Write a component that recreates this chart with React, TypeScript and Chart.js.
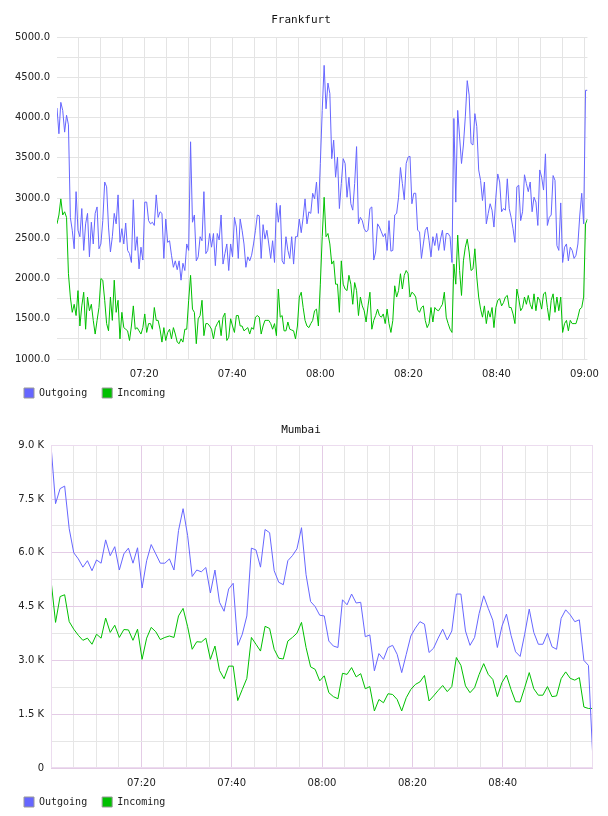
import { useEffect, useRef } from "react";
import { Chart, registerables } from "chart.js";

Chart.register(...registerables);

// ---- shared series / axis definitions ----
const SERIES_NAMES = ["Outgoing", "Incoming"];
const SERIES_COLORS = ["#6666ff", "#00c000"];

// minutes after 07:00 where vertical grid lines sit
const X_GRID_MINUTES = [0, 5, 10, 15, 20, 25, 30, 35, 40, 45, 50, 55, 60, 65, 70, 75, 80, 85, 90, 95, 100, 105, 110, 115, 120];
// labelled time marks (minutes after 07:00) and their text
const X_LABEL_MINUTES = [20, 40, 60, 80, 100, 120];
const X_LABELS = ["07:20", "07:40", "08:00", "08:20", "08:40", "09:00"];

// ---- Frankfurt: one sample every 26 s from 07:00:12 ----
const FRA_START_SEC = 12;
const FRA_STEP_SEC = 26;
const FRA_Y_LABELS = [1000, 1500, 2000, 2500, 3000, 3500, 4000, 4500, 5000];
const FRA_Y_GRID = [1250, 1750, 2250, 2750, 3250, 3750, 4250, 4750];

const FRA_OUT = [
  4120, 3800, 4190, 4090, 3820, 4030, 3910, 2760, 2600, 2370,
  3080, 2600, 2520, 2870, 2350, 2680, 2810, 2270, 2700, 2430,
  2810, 2890, 2370, 2430, 2720, 3200, 3140, 2640, 2330, 2520,
  2810, 2680, 3040, 2450, 2620, 2430, 2690, 2350, 2310, 2200,
  2980, 2350, 2520, 2120, 2390, 2230, 2950, 2950, 2720, 2680,
  2700, 2660, 3040, 2760, 2830, 2810, 2250, 2740, 2450, 2470,
  2290, 2140, 2220, 2110, 2220, 1980, 2190, 2100, 2430, 2350,
  3700, 2700, 2790, 2220, 2270, 2520, 2470, 3080, 2310, 2350,
  2560, 2390, 2560, 2160, 2560, 2480, 2790, 2180, 2310, 2430,
  2100, 2430, 2270, 2760, 2640, 2250, 2740, 2600, 2430, 2140,
  2270, 2220, 2290, 2430, 2600, 2790, 2780, 2250, 2670, 2490,
  2600, 2430, 2250, 2470, 2200, 2940, 2700, 2910, 2220, 2180,
  2520, 2350, 2250, 2520, 2180, 2520, 2520, 2740, 2570, 2760,
  2990, 2680, 2830, 2810, 3060, 2990, 3200, 2810,
  3430, 4090, 4650, 4110, 4430, 4300, 3490, 3720, 3260, 3510,
  2870, 3180, 3490, 3430, 3010, 3260, 2930, 2850, 3180, 3640,
  2680, 2760, 2720, 2620, 2580, 2600, 2870, 2890, 2230, 2330,
  2680, 2640, 2580, 2520, 2560, 2350, 2720, 2340, 2350, 2790,
  2810, 3010, 3380, 3180, 2980, 3430, 3510, 3520, 2930, 3060,
  3060, 2600, 2580, 2250, 2430, 2600, 2640, 2470, 2270, 2520,
  2410, 2560, 2350, 2490, 2600, 2350, 2560, 2560, 2520, 2200,
  3990, 2950, 4090, 3760, 3430, 3660, 4010, 4460, 4280, 3680,
  3660, 4050, 3890, 3350, 3220, 2970, 3200, 2680, 2810, 2930,
  2850, 2640, 3010, 3300, 3200, 2830, 2870, 2850, 3240, 2870,
  2760, 2620, 2450, 3140, 3160, 2720, 2830, 3290, 3180, 3080,
  3200, 2830, 3010, 2950, 2660, 3350, 3260, 3100, 3550, 2660,
  2760, 2790, 3280, 3220, 2410, 2350, 2940, 2200, 2390, 2430,
  2220, 2390, 2350, 2250, 2290, 2430, 2790, 3060, 2680, 4340,
  4340,
];

const FRA_IN = [
  2680, 2790, 2990, 2790, 2830, 2760, 2060, 1770, 1580, 1680,
  1540, 1850, 1410, 1660, 1830, 1370, 1770, 1600, 1680, 1480,
  1310, 1480, 1640, 2000, 1980, 1730, 1440, 1350, 1770, 1480,
  1980, 1580, 1730, 1250, 1580, 1390, 1370, 1350, 1230, 1410,
  1660, 1370, 1390, 1350, 1310, 1390, 1560, 1330, 1440, 1440,
  1370, 1640, 1480, 1480, 1370, 1210, 1390, 1230, 1330, 1370,
  1250, 1390, 1310, 1210, 1190, 1250, 1210, 1370, 1370, 1730,
  2040, 1620, 1580, 1190, 1500, 1540, 1730, 1290, 1440, 1440,
  1410, 1370, 1250, 1390, 1440, 1480, 1290, 1520, 1570, 1230,
  1270, 1500, 1410, 1330, 1540, 1540, 1410, 1410, 1350, 1370,
  1390, 1310, 1390, 1370, 1520, 1540, 1520, 1310, 1410, 1480,
  1480, 1480, 1440, 1370, 1440, 1290, 1870, 1520, 1540, 1350,
  1350, 1460, 1370, 1360, 1350, 1250, 1410, 1770, 1830, 1640,
  1480, 1410, 1390, 1440, 1480, 1600, 1620, 1410,
  1930, 2520, 3010, 2520, 2560, 2430, 2180, 2220, 1930, 1930,
  1580, 2220, 1930, 1870, 1850, 2040, 1930, 1680, 1950, 1850,
  1540, 1770, 1660, 1600, 1460, 1660, 1830, 1370, 1480, 1540,
  1620, 1540, 1520, 1560, 1440, 1620, 1440, 1330, 1480, 1910,
  1770, 1850, 2060, 1870, 2040, 2100, 2060, 1770, 1830, 1810,
  1770, 1610, 1580, 1640, 1660, 1480, 1390, 1440, 1640, 1460,
  1640, 1610, 1600, 1640, 1680, 1830, 1520, 1440, 1370, 1330,
  2180, 1930, 2540, 2100, 1790, 2220, 2390, 2490, 2330, 2100,
  2120, 2370, 2020, 1770, 1620, 1520, 1660, 1440, 1600, 1520,
  1640, 1390, 1640, 1730, 1750, 1660, 1700, 1770, 1790, 1640,
  1640, 1560, 1440, 1870, 1750, 1600, 1640, 1770, 1680, 1790,
  1680, 1620, 1810, 1600, 1770, 1730, 1620, 1810, 1830, 1640,
  1480, 1730, 1810, 1580, 1770, 1600, 1770, 1330, 1440, 1480,
  1350, 1480, 1440, 1440, 1440, 1520, 1620, 1640, 1770, 2680,
  2740,
];

// ---- Mumbai: one sample every 60.5 s from 07:00:00 ----
const MUM_START_SEC = 0;
const MUM_STEP_SEC = 60.5;
const MUM_Y_LABELS = [0, 1500, 3000, 4500, 6000, 7500, 9000];
const MUM_Y_GRID = [750, 2250, 3750, 5250, 6750, 8250];

const MUM_OUT = [
  9000, 7370, 7790, 7860, 6670, 6000, 5830, 5600, 5780, 5500,
  5800, 5710, 6360, 5920, 6170, 5520, 5970, 6130, 5710, 6140,
  5020, 5780, 6230, 5970, 5710, 5710, 5830, 5520, 6620, 7230,
  6480, 5340, 5520, 5470, 5590, 4880, 5520, 4620, 4370, 4990,
  5150, 3420, 3730, 4240, 6130, 6080, 5600, 6650, 6560, 5500,
  5180, 5110, 5780, 5920, 6110, 6700, 5390, 4640, 4500, 4260,
  4240, 3540, 3400, 3360, 4690, 4550, 4850, 4600, 4620, 3660,
  3710, 2710, 3190, 3030, 3360, 3420, 3170, 2660, 3170, 3680,
  3900, 4080, 4010, 3220, 3340, 3620, 3870, 3570, 3820, 4850,
  4850, 3820, 3420, 3640, 4310, 4800, 4450, 4120, 3360, 3950,
  4290, 3700, 3240, 3110, 3730, 4430, 3780, 3450, 3450, 3760,
  3380, 3310, 4170, 4410, 4270, 4080, 4130, 3000, 2860, 170,
];

const MUM_IN = [
  5240, 4060, 4780, 4830, 4080, 3870, 3700, 3560, 3620, 3450,
  3730, 3620, 4180, 3780, 3980, 3640, 3860, 3850, 3560, 3870,
  3030, 3620, 3920, 3800, 3580, 3640, 3680, 3640, 4240, 4450,
  3940, 3310, 3520, 3510, 3620, 3030, 3400, 2720, 2490, 2840,
  2840, 1880, 2190, 2500, 3640, 3450, 3260, 3950, 3890, 3310,
  3060, 3040, 3540, 3640, 3760, 4060, 3360, 2820, 2750, 2430,
  2570, 2100, 1990, 1930, 2640, 2610, 2800, 2540, 2630, 2210,
  2270, 1590, 1910, 1820, 2070, 2050, 1910, 1590, 1960, 2190,
  2330, 2400, 2580, 1870, 2010, 2160, 2300, 2130, 2270, 3080,
  2860, 2290, 2100, 2240, 2610, 2910, 2610, 2470, 1990, 2380,
  2590, 2190, 1850, 1840, 2240, 2660, 2210, 2030, 2030, 2270,
  1990, 2010, 2490, 2680, 2500, 2450, 2520, 1700, 1660, 1660,
];

const MONO = "'DejaVu Sans Mono', monospace";
const SANS = "'DejaVu Sans', sans-serif";
const TEXT = "#222222";

type PanelSpec = {
  title: string;
  startSec: number;
  stepSec: number;
  outgoing: number[];
  incoming: number[];
  yLabels: number[];
  yGrid: number[];
  formatY: (v: number) => string;
  yAxisWidth: number;
  titleBottomPad: number;
  majorGrid: string;
  minorGrid: string;
  frame: string | null;
  hideLastTime: boolean;
};

// strokes a rectangle around the plotting area
const framePlugin = {
  id: "frame",
  afterDraw(chart: any, _args: any, opts: any) {
    if (!opts || !opts.color) return;
    const { left, top, right, bottom } = chart.chartArea;
    const ctx = chart.ctx;
    ctx.save();
    ctx.strokeStyle = opts.color;
    ctx.lineWidth = 1;
    ctx.strokeRect(Math.round(left) + 0.5, Math.round(top) + 0.5, Math.round(right - left) - 1, Math.round(bottom - top) - 1);
    ctx.restore();
  },
};

// pulls the legend row a little closer to the time axis
const legendLiftPlugin = {
  id: "legendLift",
  afterLayout(chart: any, _args: any, opts: any) {
    const lg = chart.legend;
    if (!lg || !opts || !opts.dy) return;
    lg.top += opts.dy;
    lg.bottom += opts.dy;
  },
};

function toPoints(values: number[], startSec: number, stepSec: number) {
  return values.map((y, i) => ({ x: (startSec + i * stepSec) / 60, y }));
}

function buildConfig(p: PanelSpec): any {
  const out = toPoints(p.outgoing, p.startSec, p.stepSec);
  const inc = toPoints(p.incoming, p.startSec, p.stepSec);
  const xMin = out[0].x;
  const xMax = out[out.length - 1].x;
  const yTicks = [...p.yLabels, ...p.yGrid].sort((a, b) => a - b);
  const yMin = p.yLabels[0];
  const yMax = p.yLabels[p.yLabels.length - 1];

  return {
    type: "line",
    data: {
      datasets: [
        { label: SERIES_NAMES[0], data: out, borderColor: SERIES_COLORS[0], backgroundColor: SERIES_COLORS[0] },
        { label: SERIES_NAMES[1], data: inc, borderColor: SERIES_COLORS[1], backgroundColor: SERIES_COLORS[1] },
      ].map((d) => ({ ...d, borderWidth: 1, pointRadius: 0, tension: 0, fill: false })),
    },
    options: {
      animation: false,
      responsive: false,
      events: [],
      layout: { padding: { left: 9, right: 15, top: 0, bottom: 0 } },
      plugins: {
        title: {
          display: true,
          text: p.title,
          color: "#111111",
          font: { family: MONO, size: 11, weight: "normal" },
          padding: { top: 14, bottom: p.titleBottomPad },
        },
        legend: {
          position: "bottom",
          align: "start",
          labels: {
            boxWidth: 10,
            boxHeight: 10,
            padding: 15,
            color: TEXT,
            font: { family: MONO, size: 10 },
            generateLabels: (chart: any) =>
              chart.data.datasets.map((ds: any, i: number) => ({
                text: ds.label,
                fillStyle: ds.borderColor,
                strokeStyle: "#999999",
                lineWidth: 1,
                hidden: false,
                datasetIndex: i,
                fontColor: TEXT,
              })),
          },
        },
        tooltip: { enabled: false },
        frame: { color: p.frame },
        legendLift: { dy: -16 },
      },
      scales: {
        x: {
          type: "linear",
          min: xMin,
          max: xMax,
          afterBuildTicks: (s: any) => {
            s.ticks = X_GRID_MINUTES.filter((m) => m >= s.min && m <= s.max).map((value) => ({ value }));
          },
          ticks: {
            autoSkip: false,
            maxRotation: 0,
            padding: 9,
            color: TEXT,
            font: { family: SANS, size: 10 },
            callback: (v: number) => {
              const k = X_LABEL_MINUTES.indexOf(v);
              if (k < 0) return "";
              if (p.hideLastTime && k === X_LABEL_MINUTES.length - 1) return "";
              return X_LABELS[k];
            },
          },
          grid: {
            drawTicks: false,
            color: (ctx: any) => (ctx.tick && X_LABEL_MINUTES.includes(ctx.tick.value) ? p.majorGrid : p.minorGrid),
          },
          border: { display: false },
        },
        y: {
          type: "linear",
          min: yMin,
          max: yMax,
          afterBuildTicks: (s: any) => {
            s.ticks = yTicks.map((value) => ({ value }));
          },
          afterFit: (s: any) => {
            s.width = p.yAxisWidth;
          },
          ticks: {
            autoSkip: false,
            padding: 7,
            color: TEXT,
            font: { family: SANS, size: 10 },
            callback: (v: number) => (p.yLabels.includes(v) ? p.formatY(v) : ""),
          },
          grid: {
            drawTicks: false,
            color: (ctx: any) => (ctx.tick && p.yLabels.includes(ctx.tick.value) ? p.majorGrid : p.minorGrid),
          },
          border: { display: false },
        },
      },
    },
    plugins: [framePlugin, legendLiftPlugin],
  };
}

function ChartPanel({ spec, top, height }: { spec: PanelSpec; top: number; height: number }) {
  const ref = useRef<HTMLCanvasElement>(null);
  useEffect(() => {
    if (!ref.current) return;
    const chart = new Chart(ref.current, buildConfig(spec));
    return () => chart.destroy();
  }, [spec]);
  return (
    <div style={{ position: "absolute", left: 0, top, width: 608, height }}>
      <canvas ref={ref} width={608} height={height} style={{ display: "block", width: 608, height }} />
    </div>
  );
}

const FRANKFURT: PanelSpec = {
  title: "Frankfurt",
  startSec: FRA_START_SEC,
  stepSec: FRA_STEP_SEC,
  outgoing: FRA_OUT,
  incoming: FRA_IN,
  yLabels: FRA_Y_LABELS,
  yGrid: FRA_Y_GRID,
  formatY: (v) => v.toFixed(1),
  yAxisWidth: 48,
  titleBottomPad: 10,
  majorGrid: "#e4e4e4",
  minorGrid: "#e4e4e4",
  frame: null,
  hideLastTime: false,
};

const MUMBAI: PanelSpec = {
  title: "Mumbai",
  startSec: MUM_START_SEC,
  stepSec: MUM_STEP_SEC,
  outgoing: MUM_OUT,
  incoming: MUM_IN,
  yLabels: MUM_Y_LABELS,
  yGrid: MUM_Y_GRID,
  formatY: (v) => (v === 0 ? "0" : (v / 1000).toFixed(1) + " K"),
  yAxisWidth: 42,
  titleBottomPad: 8,
  majorGrid: "#e4cce6",
  minorGrid: "#e6e6e6",
  frame: "#ecdcef",
  hideLastTime: true,
};

export default function App() {
  return (
    <div style={{ position: "absolute", left: 0, top: 0, width: 608, height: 816, overflow: "hidden", background: "#ffffff" }}>
      <ChartPanel spec={MUMBAI} top={410} height={423} />
      <ChartPanel spec={FRANKFURT} top={0} height={424} />
    </div>
  );
}
